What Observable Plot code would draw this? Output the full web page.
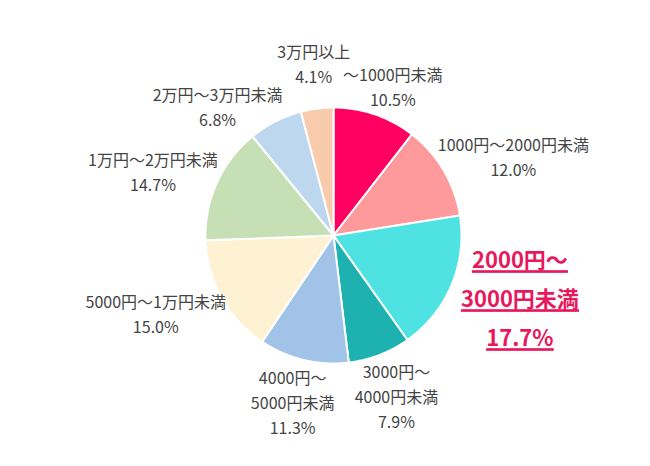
<!DOCTYPE html>
<html>
<head>
<meta charset="utf-8">
<script src="https://cdn.jsdelivr.net/npm/d3@7"></script>
<script src="https://cdn.jsdelivr.net/npm/@observablehq/plot@0.6"></script>
<style>
  html, body { margin: 0; padding: 0; background: #fff; }
  #chart { width: 650px; height: 466px; }
</style>
</head>
<body>
<div id="chart"></div>
<script>
const categories = ["～1000円未満", "1000円～2000円未満", "2000円～3000円未満", "3000円～4000円未満", "4000円～5000円未満", "5000円～1万円未満", "1万円～2万円未満", "2万円～3万円未満", "3万円以上"];
const values = [10.5, 12.0, 17.7, 7.9, 11.3, 15.0, 14.7, 6.8, 4.1];
const labelTexts = ["～1000円未満", "1000円～2000円未満", "2000円～\n3000円未満", "3000円～\n4000円未満", "4000円～\n5000円未満", "5000円～1万円未満", "1万円～2万円未満", "2万円～3万円未満", "3万円以上"];
const colors = ["#FF0060", "#FF9A9C", "#4EE2E2", "#1DB2B0", "#A0C3E7", "#FFF2D2", "#C6DFB4", "#BDD7EE", "#F8CBAD"];
const highlight = "2000円～3000円未満";

// layout settings (pixels), not data
const R = 128;
const fontFamily = "'Noto Sans CJK JP', 'Noto Sans', sans-serif";
const normalSize = 16, normalLH = 25;
const hiSize = 22, hiLH = 39;
const labelNudge = {"3万円以上": [2, 16], "2万円～3万円未満": [-26, -11], "2000円～3000円未満": [9, 15]};

const pie = d3.pie().sort(null).value(d => d.value)(categories.map((c, i) => ({cat: c, value: values[i], label: labelTexts[i]})));

const pts = [];
for (const s of pie) {
  pts.push({cat: s.data.cat, x: 0, y: 0});
  const n = Math.max(2, Math.ceil((s.endAngle - s.startAngle) / (Math.PI / 180)));
  for (let k = 0; k <= n; k++) {
    const a = s.startAngle + (s.endAngle - s.startAngle) * k / n;
    pts.push({cat: s.data.cat, x: Math.sin(a), y: Math.cos(a)});
  }
}

function lineWidth(str, f, bold) {
  let w = 0;
  for (const ch of str) {
    if (/[0-9]/.test(ch)) w += f * (bold ? 0.6 : 0.56);
    else if (ch === ".") w += f * 0.28;
    else if (ch === "%") w += f * 0.85;
    else w += f;
  }
  return w;
}

const labels = pie.map(s => {
  const isHi = s.data.cat === highlight;
  const f = isHi ? hiSize : normalSize;
  const lh = isHi ? hiLH : normalLH;
  const text = s.data.label + "\n" + s.data.value.toFixed(1) + "%";
  const lines = text.split("\n");
  const w = d3.max(lines, l => lineWidth(l, f, isHi));
  const h = lines.length * lh;
  const a = (s.startAngle + s.endAngle) / 2;
  const sn = Math.sin(a), cs = Math.cos(a);
  const r = 1.04;
  const [nx, ny] = labelNudge[s.data.cat] || [0, 0];
  return {
    cat: s.data.cat, text, isHi,
    x: r * sn + (sn * w / 2 + nx) / R,
    y: r * cs + (cs * h / 2 + ny) / R
  };
});

const chart = Plot.plot({
  width: 650,
  height: 466,
  margin: 0,
  style: {fontFamily, background: "#fff"},
  x: {domain: [-333 / R, 317 / R], range: [0, 650], axis: null},
  y: {domain: [-231 / R, 235 / R], range: [466, 0], axis: null},
  color: {type: "ordinal", domain: categories, range: colors},
  marks: [
    Plot.line(pts, {x: "x", y: "y", z: "cat", fill: "cat", stroke: "#fff", strokeWidth: 2, strokeLinejoin: "round", curve: "linear-closed"}),
    Plot.text(labels.filter(d => !d.isHi), {x: "x", y: "y", text: "text", fill: "#444", fontSize: normalSize, lineHeight: normalLH / normalSize, fontFamily}),
    Plot.text(labels.filter(d => d.isHi), {x: "x", y: "y", text: "text", fill: "#E8185D", fontSize: hiSize, fontWeight: "bold", lineHeight: hiLH / hiSize, fontFamily, ariaDescription: "highlight"})
  ]
});

d3.select(chart).selectAll('g[aria-description="highlight"] text, g[aria-description="highlight"] tspan')
  .style("text-decoration", "underline")
  .attr("text-decoration", "underline");
document.getElementById("chart").appendChild(chart);
</script>
</body>
</html>
